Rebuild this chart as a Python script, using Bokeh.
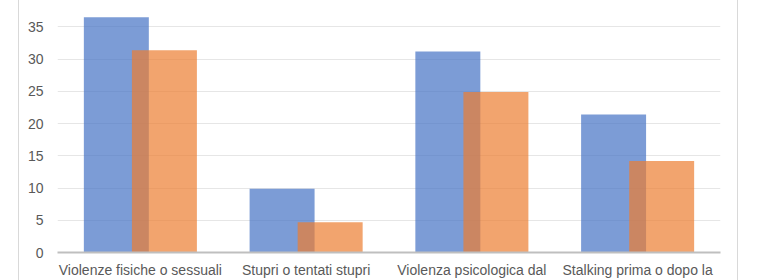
from bokeh.plotting import figure
from bokeh.models import FactorRange, Range1d, ColumnDataSource
from bokeh.transform import dodge
from bokeh.embed import file_html
from bokeh.resources import INLINE

categories = ["Violenze fisiche o sessuali", "Stupri o tentati stupri",
              "Violenza psicologica dal", "Stalking prima o dopo la"]
series_a = [36.5, 9.9, 31.2, 21.4]
series_b = [31.4, 4.7, 24.9, 14.2]
y_ticks = [0, 5, 10, 15, 20, 25, 30, 35, 40]

src = ColumnDataSource(dict(cat=categories, a=series_a, b=series_b))

FONT = "Liberation Sans"
GREY = "#595959"

p = figure(width=720, height=280, output_backend="svg", toolbar_location=None,
           x_range=FactorRange(factors=categories, range_padding=0),
           y_range=Range1d(0, 39.1),
           min_border_left=38, min_border_right=19, min_border_top=0, min_border_bottom=27)
p.margin = (0, 0, 0, 18)
p.styles = {"border-left": "1px solid #d9d9d9", "border-right": "1px solid #d9d9d9"}
p.outline_line_color = None
p.background_fill_color = "white"
p.border_fill_color = "white"

p.vbar(x=dodge("cat", -0.145, range=p.x_range), top="a", width=0.392, source=src,
       fill_color="#4472C4", fill_alpha=0.7, line_color=None)
p.vbar(x=dodge("cat", 0.145, range=p.x_range), top="b", width=0.392, source=src,
       fill_color="#ED7D31", fill_alpha=0.7, line_color=None)

p.xgrid.grid_line_color = None
p.ygrid.grid_line_color = "#e6e6e6"
p.ygrid.grid_line_width = 1
p.yaxis.ticker = y_ticks

p.yaxis.axis_line_color = None
p.yaxis.major_tick_line_color = None
p.yaxis.minor_tick_line_color = None
p.yaxis.major_tick_out = 0
p.yaxis.major_tick_in = 0
p.yaxis.minor_tick_out = 0
p.yaxis.major_label_standoff = 14
p.yaxis.major_label_text_font = FONT
p.yaxis.major_label_text_font_size = "14px"
p.yaxis.major_label_text_color = GREY

p.xaxis.axis_line_color = "#bfbfbf"
p.xaxis.axis_line_width = 2
p.xaxis.major_tick_line_color = None
p.xaxis.minor_tick_line_color = None
p.xaxis.major_tick_out = 0
p.xaxis.major_tick_in = 0
p.xaxis.minor_tick_out = 0
p.xaxis.major_label_standoff = 9
p.xaxis.major_label_text_font = FONT
p.xaxis.major_label_text_font_size = "14px"
p.xaxis.major_label_text_color = GREY

open("out.html", "w").write(file_html(p, INLINE))
